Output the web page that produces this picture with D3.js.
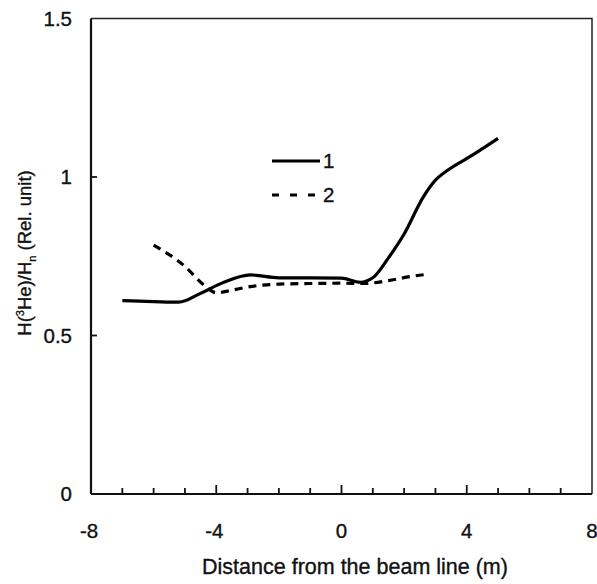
<!DOCTYPE html>
<html>
<head>
<meta charset="utf-8">
<script src="https://cdn.jsdelivr.net/npm/d3@7"></script>
<style>
  body { margin: 0; background: #fff; }
  text { font-family: "Liberation Sans", Arial, sans-serif; fill: #111; stroke: #111; stroke-width: 0.35; }
</style>
</head>
<body>
<svg width="597" height="584"></svg>
<script>
// curve 1 (solid) and curve 2 (dashed)
var xs1 = [-7, -6, -5.2, -4.5, -3.8, -2.9, -2, -1, 0, 0.6, 1.0, 1.5, 2, 2.6, 3, 3.4, 4.1, 5];
var ys1 = [0.61, 0.607, 0.605, 0.633, 0.666, 0.691, 0.682, 0.682, 0.681, 0.668, 0.682, 0.745, 0.82, 0.935, 0.99, 1.022, 1.064, 1.122];

var xs2 = [-6.0, -5.0, -4.4, -4.0, -3.5, -3, -2, -1, 0, 0.7, 1.5, 2.2, 2.75];
var ys2 = [0.785, 0.718, 0.66, 0.635, 0.643, 0.653, 0.662, 0.664, 0.665, 0.664, 0.673, 0.686, 0.693];

var xTicks = [-8, -4, 0, 4, 8];
var xMinor = d3.range(-7, 8, 1);
var yTicks = [0, 0.5, 1, 1.5];
var yInner = [0.5, 1];

var svg = d3.select("svg");

var x = d3.scaleLinear().domain([-8, 8]).range([91, 592]);
var y = d3.scaleLinear().domain([0, 1.5]).range([494, 18.5]);

// box
svg.append("path")
    .attr("d", "M" + x(-8) + "," + y(1.5) + "H" + x(8) + "V" + y(0))
    .attr("fill", "none").attr("stroke", "#222").attr("stroke-width", 1.5);

// x axis line and inward ticks
svg.append("line")
    .attr("x1", x(-8)).attr("x2", x(8)).attr("y1", y(0)).attr("y2", y(0))
    .attr("stroke", "#111").attr("stroke-width", 2.2);
svg.append("g").selectAll("line")
    .data(xMinor)
    .join("line")
    .attr("x1", d => x(d)).attr("x2", d => x(d))
    .attr("y1", y(0)).attr("y2", d => y(0) - (d % 4 == 0 ? 9 : 6))
    .attr("stroke", "#111").attr("stroke-width", 1.8);

svg.append("g").selectAll("text")
    .data(xTicks)
    .join("text")
    .attr("x", d => x(d) + (d < 0 ? -2 : 0))
    .attr("y", 538)
    .attr("text-anchor", "middle")
    .attr("font-size", 20.5)
    .text(d => d);

// y axis line and inward ticks
svg.append("line")
    .attr("x1", x(-8)).attr("x2", x(-8)).attr("y1", y(0)).attr("y2", y(1.5))
    .attr("stroke", "#111").attr("stroke-width", 2.2);
svg.append("g").selectAll("line")
    .data(yInner)
    .join("line")
    .attr("x1", x(-8)).attr("x2", x(-8) + 6)
    .attr("y1", d => y(d)).attr("y2", d => y(d))
    .attr("stroke", "#111").attr("stroke-width", 1.8);

svg.append("g").selectAll("text")
    .data(yTicks)
    .join("text")
    .attr("x", 72)
    .attr("y", d => y(d) + 7)
    .attr("text-anchor", "end")
    .attr("font-size", 20.5)
    .text(d => d);

// axis titles
svg.append("text")
    .attr("x", 355)
    .attr("y", 574)
    .attr("text-anchor", "middle")
    .attr("font-size", 21.5)
    .text("Distance from the beam line (m)");

var yl = svg.append("text")
    .attr("transform", "translate(31,253) rotate(-90)")
    .attr("text-anchor", "middle")
    .attr("font-size", 18.5);
yl.append("tspan").text("H(");
yl.append("tspan").attr("font-size", 11).attr("dy", -7).text("3");
yl.append("tspan").attr("dy", 7).text("He)/H");
yl.append("tspan").attr("font-size", 11).attr("dy", 5).text("n");
yl.append("tspan").attr("dy", -5).text(" (Rel. unit)");

// curves
var line = d3.line()
    .x(d => x(d[0]))
    .y(d => y(d[1]))
    .curve(d3.curveMonotoneX);

svg.append("path")
    .datum(d3.zip(xs1, ys1))
    .attr("d", line)
    .attr("fill", "none")
    .attr("stroke", "#000")
    .attr("stroke-width", 3.2);

svg.append("path")
    .datum(d3.zip(xs2, ys2))
    .attr("d", line)
    .attr("fill", "none")
    .attr("stroke", "#000")
    .attr("stroke-width", 3.2)
    .attr("stroke-dasharray", "8,6");

// legend
var legend = svg.append("g");
legend.append("line")
    .attr("x1", 272).attr("x2", 320).attr("y1", 161).attr("y2", 161)
    .attr("stroke", "#000").attr("stroke-width", 3.2);
legend.append("text").attr("x", 323).attr("y", 168).attr("font-size", 20.5).text("1");
legend.append("line")
    .attr("x1", 272).attr("x2", 318).attr("y1", 195).attr("y2", 195)
    .attr("stroke", "#000").attr("stroke-width", 3.2)
    .attr("stroke-dasharray", "7,11");
legend.append("text").attr("x", 323).attr("y", 202).attr("font-size", 20.5).text("2");
</script>
</body>
</html>
